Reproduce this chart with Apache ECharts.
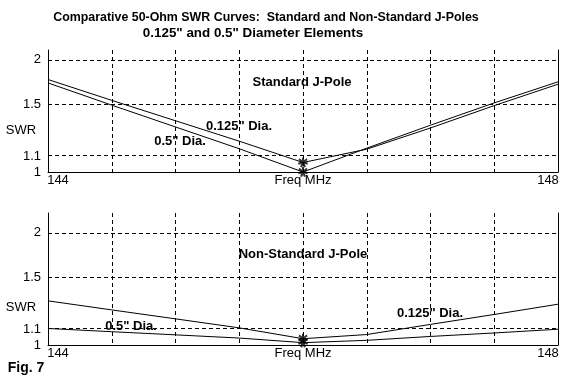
<!DOCTYPE html>
<html>
<head>
<meta charset="utf-8">
<script src="https://cdn.jsdelivr.net/npm/echarts@6/dist/echarts.min.js"></script>
<style>
html,body{margin:0;padding:0;background:#fff;}
#chart{width:583px;height:387px;}
</style>
</head>
<body>
<div id="chart"></div>
<script>
// ---- data (SWR values) ----
const freqs = [144, 144.5, 145, 145.5, 146, 146.5, 147, 147.5, 148];
const standard0125 = [1.755, 1.539, 1.358, 1.201, 1.058, 1.145, 1.300, 1.490, 1.703];
const standard05   = [1.717, 1.494, 1.308, 1.148, 1.000, 1.152, 1.322, 1.515, 1.729];
const nonStd0125   = [1.301, 1.232, 1.168, 1.107, 1.038, 1.064, 1.130, 1.199, 1.275];
const nonStd05     = [1.103, 1.082, 1.062, 1.042, 1.014, 1.028, 1.052, 1.074, 1.098];
const markerFreq = 146;

const yTickValues = [1, 1.1, 1.5, 2];
const yTickLabels = ['1', '1.1', '1.5', '2'];
const xTickValues = [144, 146, 148];
const xTickLabels = ['144', 'Freq MHz', '148'];

const titleLines = ['Comparative 50-Ohm SWR Curves:  Standard and Non-Standard J-Poles',
                    '0.125" and 0.5" Diameter Elements'];
const panelTitles = ['Standard J-Pole', 'Non-Standard J-Pole'];
const seriesNames = ['0.125" Dia.', '0.5" Dia.'];

// SWR axis is drawn linear in reflection coefficient
const rho = s => (s - 1) / (s + 1);

const FONT = '"Liberation Sans", Arial, sans-serif';
const BLACK = '#000';

function yAxisFor(grid, max) {
  return [{
    gridIndex: grid, type: 'value', min: 0, max: max,
    axisLine: {show: true, lineStyle: {color: BLACK, width: 1}},
    axisTick: {show: false},
    splitLine: {show: false},
    axisLabel: {
      customValues: yTickValues.map(rho),
      color: BLACK, fontFamily: FONT, fontSize: 13, margin: 7,
      formatter: v => {
        const i = yTickValues.findIndex(t => Math.abs(rho(t) - v) < 1e-6);
        return i >= 0 ? yTickLabels[i] : '';
      }
    }
  }, {
    gridIndex: grid, type: 'value', min: 0, max: max, position: 'right',
    axisLine: {show: true, lineStyle: {color: BLACK, width: 1}},
    axisTick: {show: false}, axisLabel: {show: false}, splitLine: {show: false}
  }];
}

function xAxisFor(grid) {
  return {
    gridIndex: grid, type: 'value', min: 144, max: 148, interval: 0.5,
    axisLine: {show: true, onZero: false, lineStyle: {color: BLACK, width: 1}},
    axisTick: {show: false},
    splitLine: {show: true, lineStyle: {color: BLACK, width: 1, type: [4, 3]}},
    axisLabel: {
      customValues: xTickValues,
      color: BLACK, fontFamily: FONT, fontSize: 13, margin: 2,
      formatter: v => {
        const i = xTickValues.indexOf(v);
        if (i === 0) return '{l|' + xTickLabels[i] + '}';
        if (i === xTickValues.length - 1) return '{r|' + xTickLabels[i] + '}';
        return i >= 0 ? xTickLabels[i] : '';
      },
      rich: {
        l: {padding: [0, 0, 0, 20], fontFamily: FONT, fontSize: 13, color: BLACK},
        r: {padding: [0, 20, 0, 0], fontFamily: FONT, fontSize: 13, color: BLACK}
      }
    }
  };
}

const starPath = 'path://M-1,-5 L1,-5 L1,-2.4 L3.5,-4.2 L4.6,-2.6 L2.2,-0.9 L5,0 L4.4,1.9 L1.8,1.2 L2.9,3.8 L1,4.6 L0,2.4 L-1,4.6 L-2.9,3.8 L-1.8,1.2 L-4.4,1.9 L-5,0 L-2.2,-0.9 L-4.6,-2.6 L-3.5,-4.2 L-1,-2.4 Z';

function lineSeries(name, values, xi, yi, withGrid) {
  const s = {
    name: name, type: 'line', xAxisIndex: xi, yAxisIndex: yi,
    data: freqs.map((f, i) => [f, rho(values[i])]),
    symbol: 'none', smooth: false, silent: true, animation: false,
    lineStyle: {color: BLACK, width: 1}, z: 5
  };
  if (withGrid) {
    s.markLine = {
      silent: true, animation: false, symbol: ['none', 'none'],
      label: {show: false},
      lineStyle: {color: BLACK, width: 1, type: [4, 3]},
      data: yTickValues.slice(1).map(v => ({yAxis: rho(v)}))
    };
  }
  return s;
}

function markerSeries(values, xi, yi) {
  const i = freqs.indexOf(markerFreq);
  return {
    type: 'scatter', xAxisIndex: xi, yAxisIndex: yi, silent: true, animation: false,
    symbol: starPath, symbolSize: 10, itemStyle: {color: BLACK}, z: 6,
    data: [[freqs[i], rho(values[i])]]
  };
}

const chart = echarts.init(document.getElementById('chart'), null, {renderer: 'canvas'});

const boldText = (text, x, y, size, align) => ({
  type: 'text', z: 100, silent: true,
  style: {text: text, x: x, y: y, fill: BLACK, font: 'bold ' + size + 'px ' + FONT,
          textAlign: align || 'center', textVerticalAlign: 'middle'}
});
const plainText = (text, x, y) => ({
  type: 'text', z: 100, silent: true,
  style: {text: text, x: x, y: y, fill: BLACK, font: '13px ' + FONT,
          textAlign: 'center', textVerticalAlign: 'middle'}
});

chart.setOption({
  backgroundColor: '#fff',
  animation: false,
  grid: [
    {left: 48, right: 25, top: 50, height: 122},
    {left: 48, right: 25, top: 213, height: 132}
  ],
  xAxis: [xAxisFor(0), xAxisFor(1)],
  yAxis: [...yAxisFor(0, 122 / 337.5), ...yAxisFor(1, 132 / 337.5)],
  series: [
    lineSeries(seriesNames[0], standard0125, 0, 0, true),
    lineSeries(seriesNames[1], standard05, 0, 0, false),
    markerSeries(standard0125, 0, 0),
    markerSeries(standard05, 0, 0),
    lineSeries(seriesNames[0], nonStd0125, 1, 2, true),
    lineSeries(seriesNames[1], nonStd05, 1, 2, false),
    markerSeries(nonStd0125, 1, 2),
    markerSeries(nonStd05, 1, 2)
  ],
  graphic: [
    boldText(titleLines[0], 266, 18, 12.4),
    boldText(titleLines[1], 253, 33, 13.4),
    plainText('SWR', 21, 130),
    plainText('SWR', 21, 307),
    boldText(panelTitles[0], 302, 82, 13),
    boldText(seriesNames[0], 239, 126, 13),
    boldText(seriesNames[1], 180, 141, 13),
    boldText(panelTitles[1], 303, 254, 13),
    boldText(seriesNames[1], 131, 326, 13),
    boldText(seriesNames[0], 430, 313, 13),
    boldText('Fig. 7', 26, 368, 14)
  ]
});
</script>
</body>
</html>
